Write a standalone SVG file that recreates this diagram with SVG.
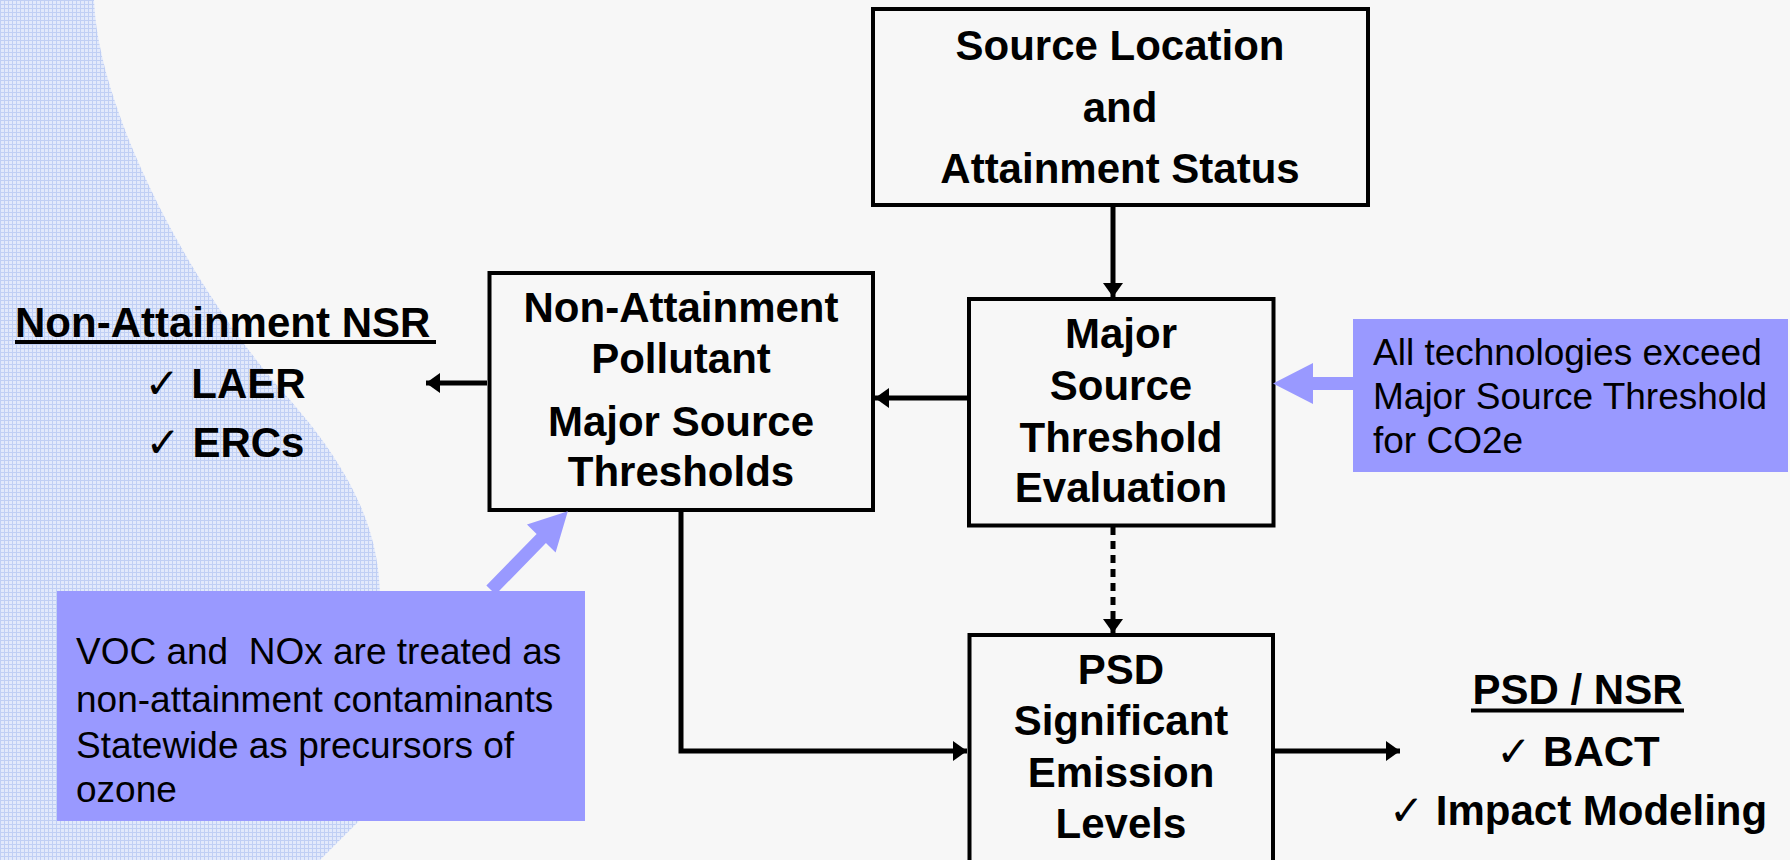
<svg xmlns="http://www.w3.org/2000/svg" width="1790" height="860" viewBox="0 0 1790 860">
<style>
.box{fill:#f7f7f7;stroke:#000;stroke-width:4}
.bt{font-family:"Liberation Sans",Arial,sans-serif;font-weight:bold;font-size:42px;fill:#000;text-anchor:middle}
.lt{font-family:"Liberation Sans",Arial,sans-serif;font-weight:bold;font-size:42px;fill:#000}
.nt{font-family:"Liberation Sans",Arial,sans-serif;font-size:37px;fill:#000}
.ck{font-family:"DejaVu Sans",sans-serif;font-weight:normal;font-size:42px}
.note{fill:#9999ff}
.conn{stroke:#000;stroke-width:5;fill:none}
</style>
<defs>
<pattern id="grid" width="4" height="4" patternUnits="userSpaceOnUse">
<rect width="4" height="4" fill="#e2e9fb"/>
<path d="M0 0.5H4M0.5 0V4" stroke="#c0cff4" stroke-width="1"/>
</pattern>
<marker id="ah" markerUnits="userSpaceOnUse" markerWidth="15" markerHeight="21" refX="14" refY="10" orient="auto">
<path d="M0 0L14 10L0 20Z" fill="#000"/>
</marker>
</defs>
<rect width="1790" height="860" fill="#f7f7f7"/>
<path d="M0 0H94C98 110 190 290 290 400C360 480 380 540 380 600V800L320 860H0Z" fill="url(#grid)"/>

<g id="connectors">
<line class="conn" x1="1113" y1="207" x2="1113" y2="297" marker-end="url(#ah)"/>
<line class="conn" x1="967" y1="398" x2="875" y2="398" marker-end="url(#ah)"/>
<line class="conn" x1="487" y1="383" x2="426" y2="383" marker-end="url(#ah)"/>
<line class="conn" x1="1113" y1="527" x2="1113" y2="633" stroke-dasharray="8 6" stroke-width="6" marker-end="url(#ah)"/>
<polyline class="conn" points="681,512 681,751 967,751" marker-end="url(#ah)"/>
<line class="conn" x1="1275" y1="751" x2="1400" y2="751" marker-end="url(#ah)"/>
</g>

<g id="source-location">
<rect class="box" x="873" y="9" width="495" height="196"/>
<text class="bt" x="1120" y="60">Source Location</text>
<text class="bt" x="1120" y="122">and</text>
<text class="bt" x="1120" y="183">Attainment Status</text>
</g>

<g id="major-source">
<rect class="box" x="969" y="299" width="304.5" height="226.5"/>
<text class="bt" x="1121" y="348">Major</text>
<text class="bt" x="1121" y="400">Source</text>
<text class="bt" x="1121" y="452">Threshold</text>
<text class="bt" x="1121" y="502">Evaluation</text>
</g>

<g id="non-attainment-thresholds">
<rect class="box" x="489.5" y="273" width="383.5" height="237"/>
<text class="bt" x="681" y="322">Non-Attainment</text>
<text class="bt" x="681" y="373">Pollutant</text>
<text class="bt" x="681" y="436">Major Source</text>
<text class="bt" x="681" y="486">Thresholds</text>
</g>

<g id="psd-sel">
<rect class="box" x="969.5" y="635" width="303.5" height="240"/>
<text class="bt" x="1121" y="684">PSD</text>
<text class="bt" x="1121" y="735">Significant</text>
<text class="bt" x="1121" y="787">Emission</text>
<text class="bt" x="1121" y="838">Levels</text>
</g>

<g id="non-attainment-nsr">
<text class="lt" x="15" y="337">Non-Attainment NSR</text>
<line x1="15" y1="342" x2="436" y2="342" stroke="#000" stroke-width="4"/>
<text class="bt" x="225" y="398"><tspan class="ck">✓</tspan> LAER</text>
<text class="bt" x="225" y="457"><tspan class="ck">✓</tspan> ERCs</text>
</g>

<g id="psd-nsr">
<text class="bt" x="1577.5" y="704">PSD / NSR</text>
<line x1="1471" y1="710.5" x2="1684" y2="710.5" stroke="#000" stroke-width="4"/>
<text class="bt" x="1578" y="766"><tspan class="ck">✓</tspan> BACT</text>
<text class="bt" x="1578" y="825"><tspan class="ck">✓</tspan> Impact Modeling</text>
</g>

<g id="note-co2e">
<rect class="note" x="1353" y="319" width="435" height="153"/>
<polygon class="note" points="1273,383.5 1313,363 1313,377 1354,377 1354,390 1313,390 1313,404"/>
<text class="nt" x="1373" y="365">All technologies exceed</text>
<text class="nt" x="1373" y="409">Major Source Threshold</text>
<text class="nt" x="1373" y="453">for CO2e</text>
</g>

<g id="note-voc">
<polygon class="note" transform="translate(491,590) rotate(-45.7)" points="0,-6.5 72,-6.5 72,-20 110,0 72,20 72,6.5 0,6.5"/>
<rect class="note" x="57" y="591" width="528" height="230"/>
<text class="nt" x="76" y="664" xml:space="preserve">VOC and  NOx are treated as</text>
<text class="nt" x="76" y="712">non-attainment contaminants</text>
<text class="nt" x="76" y="758">Statewide as precursors of</text>
<text class="nt" x="76" y="802">ozone</text>
</g>
</svg>
